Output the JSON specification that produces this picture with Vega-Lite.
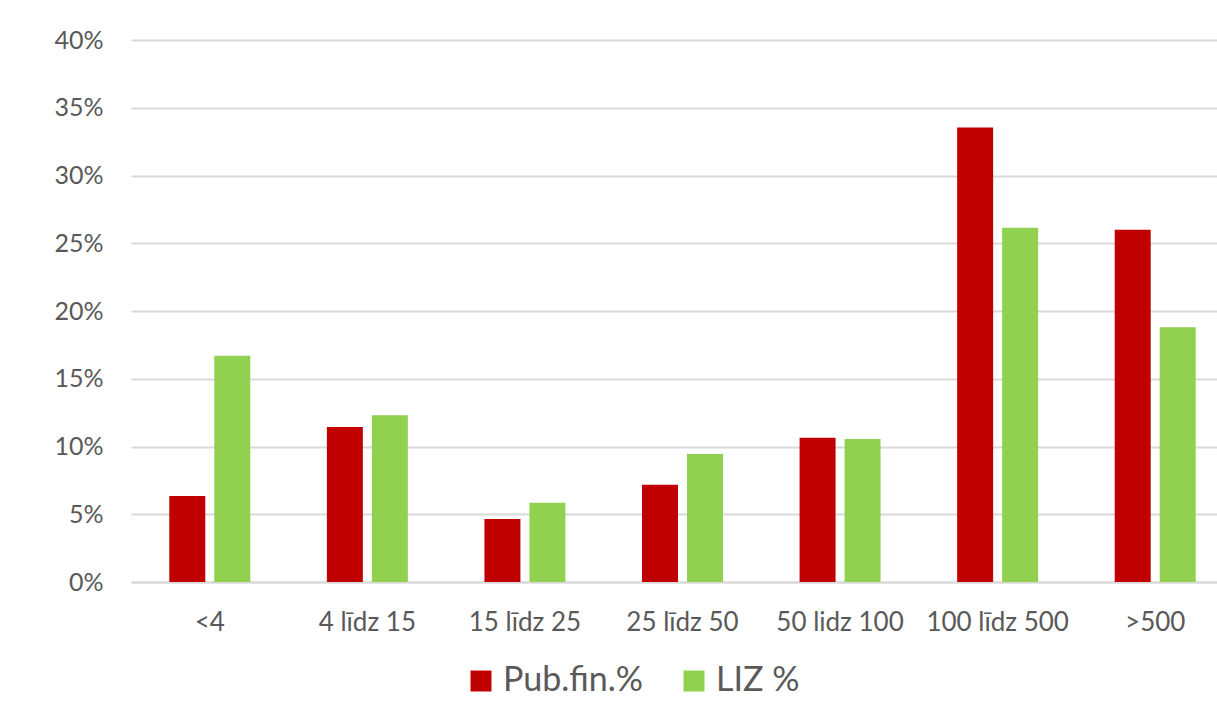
{
  "$schema": "https://vega.github.io/schema/vega-lite/v6.json",
  "width": 1086,
  "height": 542,
  "autosize": {"type": "none"},
  "padding": {"left": 131, "top": 40, "right": 0, "bottom": 124},
  "background": "white",
  "config": {
    "view": {"stroke": null},
    "font": "Lato",
    "axis": {"labelColor": "#595959", "labelFont": "Lato"},
    "legend": {"labelFont": "Lato"}
  },
  "data": {
    "values": [
      {"grupa": "<4", "serija": "Pub.fin.%", "v": 0.0635},
      {"grupa": "<4", "serija": "LIZ %", "v": 0.167},
      {"grupa": "4 līdz 15", "serija": "Pub.fin.%", "v": 0.1144},
      {"grupa": "4 līdz 15", "serija": "LIZ %", "v": 0.123},
      {"grupa": "15 līdz 25", "serija": "Pub.fin.%", "v": 0.0465},
      {"grupa": "15 līdz 25", "serija": "LIZ %", "v": 0.0585},
      {"grupa": "25 līdz 50", "serija": "Pub.fin.%", "v": 0.0718},
      {"grupa": "25 līdz 50", "serija": "LIZ %", "v": 0.0945},
      {"grupa": "50 lidz 100", "serija": "Pub.fin.%", "v": 0.1065},
      {"grupa": "50 lidz 100", "serija": "LIZ %", "v": 0.1055},
      {"grupa": "100 līdz 500", "serija": "Pub.fin.%", "v": 0.3355},
      {"grupa": "100 līdz 500", "serija": "LIZ %", "v": 0.2615},
      {"grupa": ">500", "serija": "Pub.fin.%", "v": 0.260},
      {"grupa": ">500", "serija": "LIZ %", "v": 0.188}
    ]
  },
  "mark": {"type": "bar"},
  "encoding": {
    "x": {
      "field": "grupa",
      "type": "nominal",
      "sort": null,
      "scale": {"range": [0, 1103], "paddingInner": 0.486, "paddingOuter": 0.243},
      "axis": {
        "title": null,
        "labelAngle": 0,
        "labelFontSize": 26,
        "labelPadding": 27,
        "ticks": false,
        "domainColor": "#D9D9D9",
        "domainWidth": 2
      }
    },
    "xOffset": {
      "field": "serija",
      "type": "nominal",
      "sort": ["Pub.fin.%", "LIZ %"],
      "scale": {"paddingInner": 0.2, "paddingOuter": 0}
    },
    "y": {
      "field": "v",
      "type": "quantitative",
      "scale": {"domain": [0, 0.4]},
      "axis": {
        "title": null,
        "format": ".0%",
        "values": [0, 0.05, 0.1, 0.15, 0.2, 0.25, 0.3, 0.35, 0.4],
        "labelFontSize": 25,
        "labelPadding": 28,
        "ticks": false,
        "domain": false,
        "gridColor": "#D9D9D9",
        "gridWidth": 2
      }
    },
    "color": {
      "field": "serija",
      "type": "nominal",
      "sort": ["Pub.fin.%", "LIZ %"],
      "scale": {"domain": ["Pub.fin.%", "LIZ %"], "range": ["#C00000", "#92D050"]},
      "legend": {
        "title": null,
        "orient": "none",
        "direction": "horizontal",
        "legendX": 333,
        "legendY": 624,
        "symbolType": "square",
        "symbolSize": 441,
        "symbolStrokeWidth": 0,
        "labelFontSize": 34,
        "labelColor": "#595959",
        "labelOffset": 5,
        "columnPadding": 34
      }
    }
  }
}
